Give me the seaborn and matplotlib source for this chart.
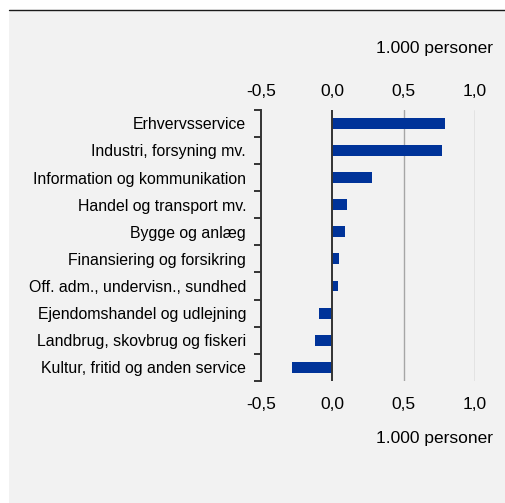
import matplotlib
matplotlib.use("Agg")
import matplotlib.pyplot as plt
import seaborn as sns
import pandas as pd
from matplotlib.patches import Rectangle
from matplotlib.lines import Line2D

categories = [
    "Erhvervsservice",
    "Industri, forsyning mv.",
    "Information og kommunikation",
    "Handel og transport mv.",
    "Bygge og anlæg",
    "Finansiering og forsikring",
    "Off. adm., undervisn., sundhed",
    "Ejendomshandel og udlejning",
    "Landbrug, skovbrug og fiskeri",
    "Kultur, fritid og anden service",
]
values = [0.79, 0.77, 0.28, 0.10, 0.09, 0.05, 0.04, -0.09, -0.12, -0.28]
x_ticks = [-0.5, 0.0, 0.5, 1.0]
x_tick_labels = ["-0,5", "0,0", "0,5", "1,0"]
unit_label = "1.000 personer"

df = pd.DataFrame({"category": categories, "value": values})

sns.set_theme(style="white")
plt.rcParams["font.family"] = ["Liberation Sans", "DejaVu Sans"]
plt.rcParams["text.color"] = "black"
plt.rcParams["xtick.color"] = "black"
plt.rcParams["ytick.color"] = "black"

W, H = 506, 503
fig = plt.figure(figsize=(W / 100, H / 100), dpi=100)
fig.patch.set_facecolor("white")

# background panel and top rule
bg = Rectangle((9 / W, 0), 1 - 9 / W, 1 - 10 / H,
               transform=fig.transFigure, facecolor="#f2f2f2",
               edgecolor="none", zorder=-10)
fig.add_artist(bg)
fig.add_artist(Line2D([9 / W, 1], [1 - 10 / H, 1 - 10 / H],
                      transform=fig.transFigure, color="#1a1a1a", lw=1.0,
                      zorder=-5))

ax = fig.add_axes([261 / W, (H - 381) / H, 214 / W, 271.3 / H])
ax.set_facecolor("none")
ax.set_zorder(1)

sns.barplot(data=df, x="value", y="category", orient="h", color="#003399",
            saturation=1, width=0.4, linewidth=0, ax=ax, zorder=3)

ax.set_xlim(-0.5, 1.0)
ax.set_ylim(len(categories) - 0.5, -0.5)
ax.set_xlabel("")
ax.set_ylabel("")

for s in ["top", "right", "bottom"]:
    ax.spines[s].set_visible(False)
ax.spines["left"].set_color("#333333")
ax.spines["left"].set_linewidth(1.4)

for xv in [0.5, 1.0]:
    ax.axvline(xv, color="#a6a6a6", lw=1.0, zorder=1)
ax.axvline(0.0, color="#333333", lw=1.4, zorder=4)

ax.set_xticks(x_ticks)
ax.set_xticklabels(x_tick_labels)
ax.tick_params(axis="x", which="both", bottom=True, labelbottom=True,
               length=0, pad=11.5, labelsize=12.5, colors="black")

top = ax.secondary_xaxis("top")
top.set_xticks(x_ticks)
top.set_xticklabels(x_tick_labels)
top.spines["top"].set_visible(False)
top.tick_params(axis="x", length=0, pad=7.5, labelsize=12.5, colors="black")

ax.set_yticks(range(len(categories)))
ax.set_yticklabels(categories)
ax.set_yticks([i - 0.5 for i in range(len(categories) + 1)], minor=True)
ax.tick_params(axis="y", which="major", length=0, pad=10.8, labelsize=11.4,
               labelcolor="black")
ax.tick_params(axis="y", which="minor", left=True, length=5, width=1.4,
               color="#333333")

fig.text(493 / W, 1 - 48 / H, unit_label, ha="right", va="center", fontsize=12.5)
fig.text(493 / W, 1 - 439 / H, unit_label, ha="right", va="center", fontsize=12.5)

fig.savefig("out.png", dpi=100)
